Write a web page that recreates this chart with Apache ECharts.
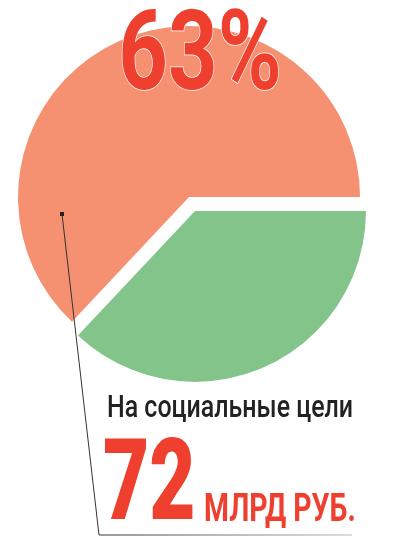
<!DOCTYPE html>
<html><head><meta charset="utf-8">
<script src="https://cdn.jsdelivr.net/npm/echarts@6/dist/echarts.min.js"></script>
<style>html,body{margin:0;padding:0;background:#fff}#c{width:393px;height:558px}</style>
</head><body><div id="c"></div>
<script>
const categories = ['Прочее', 'На социальные цели'];
const shares = [37, 63];
const colors = ['#82C48A', '#F59071'];
const amountValue = 72;
const amountUnit = 'МЛРД РУБ.';
const caption = 'На социальные цели';

const RED = '#EE3F2F';
const chart = echarts.init(document.getElementById('c'), null, {renderer: 'canvas'});
chart.setOption({
  animation: false,
  series: [{
    type: 'pie',
    center: [192, 204],
    radius: [0, 171],
    startAngle: 0,
    clockwise: true,
    selectedMode: 'multiple',
    selectedOffset: 7.5,
    silent: true,
    label: {show: false},
    labelLine: {show: false},
    emphasis: {disabled: true},
    data: categories.map((n, i) => ({name: n, value: shares[i], selected: true, itemStyle: {color: colors[i]}}))
  }],
  graphic: [
    {type: 'text', z: 100, x: 200, y: 61, scaleX: 0.78,
     style: {text: shares[1] + '%', font: 'bold 111px Roboto', fill: RED, stroke: '#fff', lineWidth: 1.5, textAlign: 'center', textVerticalAlign: 'middle'}},
    {type: 'polyline', z: 100, shape: {points: [[62, 214], [99, 535]]}, style: {stroke: '#333', lineWidth: 1, fill: null}},
    {type: 'line', z: 100, shape: {x1: 99, y1: 535, x2: 352, y2: 535},
     style: {stroke: new echarts.graphic.LinearGradient(0, 0, 1, 0, [{offset: 0, color: '#333'}, {offset: 1, color: '#bbb'}]), lineWidth: 1}},
    {type: 'rect', z: 101, shape: {x: 60, y: 212, width: 4, height: 4}, style: {fill: '#222'}},
    {type: 'text', z: 100, x: 107, y: 408.5, scaleX: 0.78,
     style: {text: caption, font: '500 32px Roboto', fill: '#222', textAlign: 'left', textVerticalAlign: 'middle'}},
    {type: 'text', z: 100, x: 103, y: 490.5, scaleX: 0.7,
     style: {text: String(amountValue), font: '900 114px Roboto', fill: RED, textAlign: 'left', textVerticalAlign: 'middle'}},
    {type: 'text', z: 100, x: 204, y: 511.5, scaleX: 0.73,
     style: {text: amountUnit, font: 'bold 39px Roboto', fill: RED, textAlign: 'left', textVerticalAlign: 'middle'}}
  ]
});
</script></body></html>
